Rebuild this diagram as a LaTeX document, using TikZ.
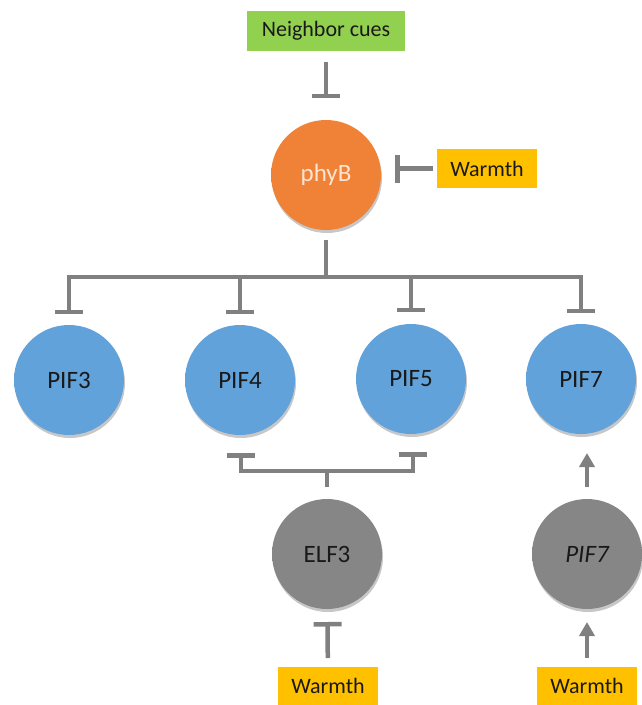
\documentclass[tikz,border=0pt]{standalone}
\usepackage{fontspec}
\setmainfont{Carlito}
\usetikzlibrary{arrows.meta,shadows}
\definecolor{lineC}{RGB}{128,128,128}
\definecolor{greenC}{RGB}{146,208,80}
\definecolor{warmC}{RGB}{255,192,0}
\definecolor{orIn}{RGB}{240,130,55}
\definecolor{orOut}{RGB}{212,100,30}
\definecolor{blIn}{RGB}{98,162,218}
\definecolor{blOut}{RGB}{68,128,192}
\definecolor{grIn}{RGB}{134,134,134}
\definecolor{grOut}{RGB}{100,100,100}
\definecolor{txtC}{RGB}{25,25,25}
\definecolor{phyTxt}{RGB}{252,228,210}
\pgfdeclareradialshading{orball}{\pgfpoint{0bp}{4bp}}{color(0bp)=(orIn); color(30bp)=(orIn); color(50bp)=(orOut)}
\pgfdeclareradialshading{blball}{\pgfpoint{0bp}{4bp}}{color(0bp)=(blIn); color(30bp)=(blIn); color(50bp)=(blOut)}
\pgfdeclareradialshading{grball}{\pgfpoint{0bp}{4bp}}{color(0bp)=(grIn); color(30bp)=(grIn); color(50bp)=(grOut)}
\tikzset{
  ball/.style={circle, minimum size=110pt, inner sep=0pt, outer sep=0pt,
    font=\fontsize{25}{29}\selectfont, text=txtC,
    drop shadow={shadow xshift=1pt, shadow yshift=-3pt, opacity=0.22, fill=black}},
  orangeball/.style={ball, shading=orball, text=phyTxt},
  blueball/.style={ball, shading=blball},
  grayball/.style={ball, shading=grball},
  cuebox/.style={rectangle, inner sep=0pt, outer sep=0pt, text=txtC,
    font=\fontsize{22}{26}\selectfont},
  conn/.style={draw=lineC, line width=4.5pt},
  inhib/.style={conn, -{Bar[width=28pt]}},
  bothinhib/.style={conn, {Bar[width=28pt]}-{Bar[width=28pt]}},
  activ/.style={conn, -{Triangle[width=15pt,length=14pt]}}
}
\begin{document}
\begin{tikzpicture}[x=1pt,y=-1pt]
\useasboundingbox (0,0) rectangle (641,705);
% nodes
\node[cuebox, fill=greenC, minimum width=158pt, minimum height=40pt] (nc) at (326,31) {Neighbor cues};
\node[orangeball] (phyb) at (326,175) {phyB};
\node[cuebox, fill=warmC, minimum width=100pt, minimum height=39pt] (w1) at (487,168.5) {Warmth};
\node[blueball] (pif3) at (69,380) {PIF3};
\node[blueball] (pif4) at (240,380) {PIF4};
\node[blueball] (pif5) at (411,379) {PIF5};
\node[blueball] (pif7) at (581,379) {PIF7};
\node[grayball] (elf3) at (327,554) {ELF3};
\node[grayball] (gpif7) at (587,554) {\itshape PIF7};
\node[cuebox, fill=warmC, minimum width=100pt, minimum height=38pt] (w2) at (328,686) {Warmth};
\node[cuebox, fill=warmC, minimum width=100pt, minimum height=38pt] (w3) at (587,686) {Warmth};
% junction coordinates
\coordinate (hb) at (326,277);
\coordinate (j3) at (69,277);
\coordinate (j4) at (240,277);
\coordinate (j5) at (411,277);
\coordinate (j7) at (581,277);
\coordinate (ke) at (327,471);
\coordinate (k4) at (241,471);
\coordinate (k5) at (413,471);
% connectors
\draw[inhib, shorten <=11pt, shorten >=22pt] (nc) -- (phyb);
\draw[inhib, shorten <=4pt, shorten >=14pt] (w1.west) -- (w1.west -| phyb.east);
\draw[conn, shorten <=10pt] (phyb) -- (hb);
\draw[bothinhib, shorten <=11pt, shorten >=11pt] (pif3.north) -- (j3) -- (j7) -- (pif7.north);
\draw[inhib, shorten >=11pt] (j4) -- (pif4.north);
\draw[inhib, shorten >=12pt] (j5) -- (pif5.north);
\draw[conn, shorten <=12pt] (elf3) -- (ke);
\draw[bothinhib, shorten <=18pt, shorten >=18pt] (k4 |- pif4.south) -- (k4) -- (k5) -- (k5 |- pif5.south);
\draw[inhib, shorten <=9pt, shorten >=13pt] (w2) -- (elf3);
\draw[activ, shorten <=9pt, shorten >=13pt] (w3) -- (gpif7);
\draw[activ, shorten <=12pt, shorten >=19pt] (gpif7.north) -- (gpif7.north |- pif7.south);
\end{tikzpicture}
\end{document}
